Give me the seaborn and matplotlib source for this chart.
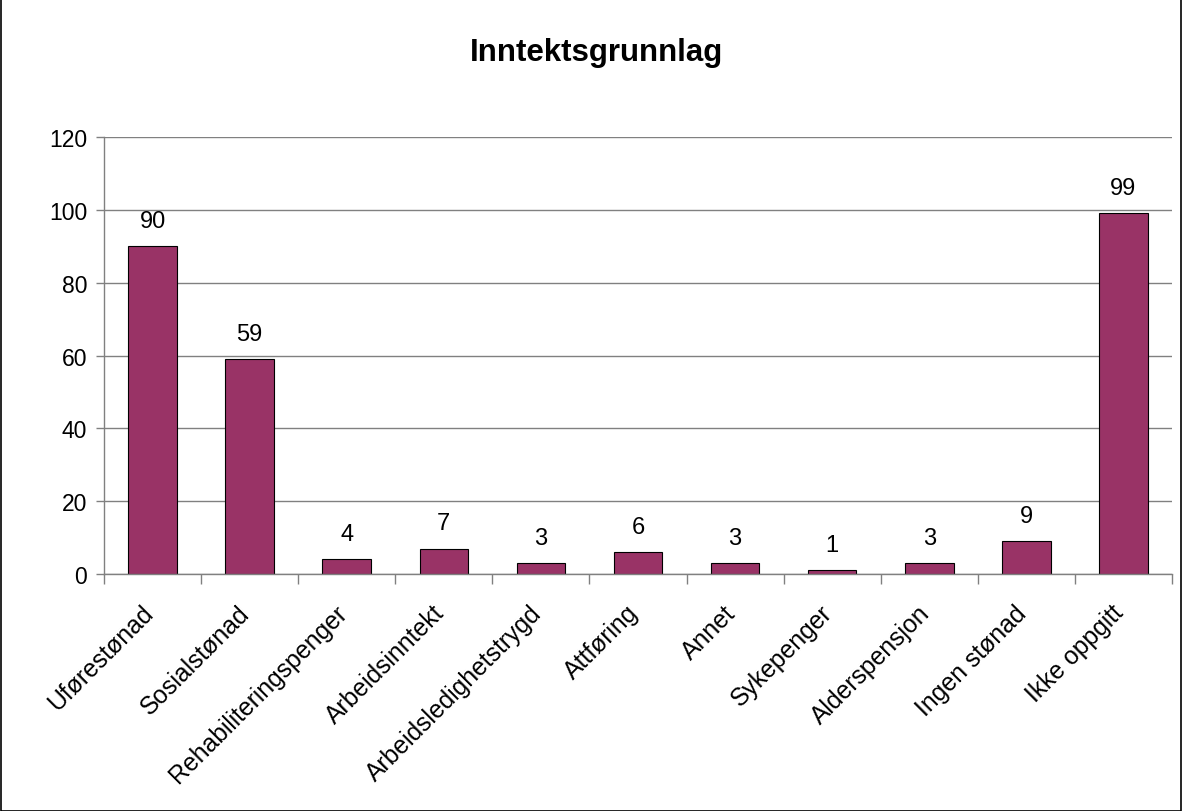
import matplotlib
matplotlib.use("Agg")
import matplotlib.pyplot as plt
import matplotlib.transforms as mtransforms
import seaborn as sns
import pandas as pd
from matplotlib.patches import Rectangle

# Data
categories = ["Uførestønad", "Sosialstønad", "Rehabiliteringspenger", "Arbeidsinntekt",
              "Arbeidsledighetstrygd", "Attføring", "Annet", "Sykepenger",
              "Alderspensjon", "Ingen stønad", "Ikke oppgitt"]
values = [90, 59, 4, 7, 3, 6, 3, 1, 3, 9, 99]
yticks = [0, 20, 40, 60, 80, 100, 120]

df = pd.DataFrame({"kategori": categories, "antall": values})

sns.set_theme(style="white")
plt.rcParams['font.family'] = ['Liberation Sans', 'DejaVu Sans']

fig = plt.figure(figsize=(11.82, 8.12), dpi=100)
ax = fig.add_axes([104/1182, 1 - 575/812, (1172-104)/1182, (575-138)/812])

sns.barplot(data=df, x="kategori", y="antall", color="#993366", width=0.5,
            edgecolor="black", linewidth=0.8, saturation=1, ax=ax)

ax.set_ylim(0, 120)
ax.set_xlim(-0.5, len(categories) - 0.5)
ax.set_yticks(yticks)
ax.set_yticklabels([str(t) for t in yticks], fontsize=16.5, color="black")
ax.yaxis.grid(True, color="#808080", linewidth=1)
ax.set_axisbelow(True)
ax.set_xlabel("")
ax.set_ylabel("")

# x ticks at category boundaries, labels at centres
ax.set_xticks([i - 0.5 for i in range(len(categories) + 1)], minor=False)
ax.set_xticklabels([])
ax.set_xticks(range(len(categories)), minor=True)
ax.set_xticklabels(categories, minor=True, rotation=45, ha="right",
                   rotation_mode="anchor", fontsize=17.8, color="black")
ax.tick_params(axis="x", which="major", direction="out", length=7, width=1, color="#808080", bottom=True)
ax.tick_params(axis="x", which="minor", length=0, pad=19)
ax.tick_params(axis="y", direction="out", length=6, width=1, color="#808080", left=True, pad=6)

# nudge the rotated labels a little to the left, like the original
shift = mtransforms.ScaledTranslation(-12/100, 0, fig.dpi_scale_trans)
for lab in ax.get_xticklabels(minor=True):
    lab.set_transform(lab.get_transform() + shift)

for side in ["top", "right"]:
    ax.spines[side].set_visible(False)
for side in ["left", "bottom"]:
    ax.spines[side].set_color("#808080")
    ax.spines[side].set_linewidth(1)

for i, v in enumerate(values):
    ax.annotate(str(v), (i, v), xytext=(0, 14), textcoords="offset points",
                ha="center", va="baseline", fontsize=17, color="black")

fig.text(597/1182, 1 - 61/812, "Inntektsgrunnlag", ha="center", va="baseline",
         fontsize=22.5, fontweight="bold", color="black")

# border round the figure
fig.patches.append(Rectangle((0.0005, 0.0005), 0.999, 0.999, transform=fig.transFigure,
                             fill=False, edgecolor="black", linewidth=1.2))

fig.savefig("out.png", dpi=100)
